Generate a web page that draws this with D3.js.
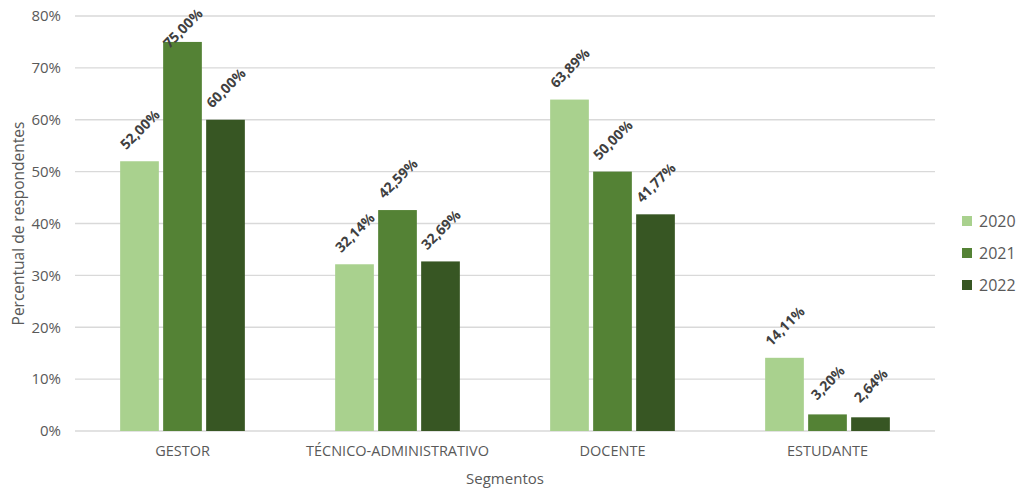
<!DOCTYPE html>
<html>
<head>
<meta charset="utf-8">
<script src="https://cdn.jsdelivr.net/npm/d3@7"></script>
<style>
  body { margin: 0; background: #fff; }
  svg text { font-family: 'Open Sans', sans-serif; }
</style>
</head>
<body>
<svg width="1022" height="492"></svg>
<script>
const segments = ['GESTOR', 'TÉCNICO-ADMINISTRATIVO', 'DOCENTE', 'ESTUDANTE']
const years = ['2020', '2021', '2022']
const values2020 = [52.00, 32.14, 63.89, 14.11]
const values2021 = [75.00, 42.59, 50.00, 3.20]
const values2022 = [60.00, 32.69, 41.77, 2.64]
const yTicks = [0, 10, 20, 30, 40, 50, 60, 70, 80]
const colors = ['#A9D18E', '#548235', '#375623']

const series = [values2020, values2021, values2022]

const svg = d3.select('svg')
const margin = { top: 16, right: 87, bottom: 61, left: 75 }
const width = 1022 - margin.left - margin.right
const height = 492 - margin.top - margin.bottom
const g = svg.append('g').attr('transform', `translate(${margin.left},${margin.top})`)

const x = d3.scaleBand().domain(segments).range([0, width]).paddingInner(0).paddingOuter(0)
const x1 = d3.scaleBand().domain(years).range([x.bandwidth() * 0.21, x.bandwidth() * 0.79]).paddingInner(0.1)
const y = d3.scaleLinear().domain([0, 80]).range([height, 0])

// grid
g.append('g')
	.selectAll('line')
	.data(yTicks)
	.enter()
	.append('line')
	.attr('x1', 0)
	.attr('x2', width)
	.attr('y1', d => y(d))
	.attr('y2', d => y(d))
	.attr('stroke', '#d9d9d9')
	.attr('stroke-width', 1.3)

// y axis labels
const yAxis = g.append('g')
	.call(d3.axisLeft(y).tickValues(yTicks).tickFormat(d => d + '%').tickSize(0).tickPadding(14))
yAxis.select('.domain').remove()
yAxis.selectAll('text').attr('font-size', 15).attr('fill', '#595959').attr('font-family', "'Open Sans', sans-serif")

// x axis labels
const xAxis = g.append('g')
	.attr('transform', `translate(0,${height})`)
	.call(d3.axisBottom(x).tickSize(0).tickPadding(15))
xAxis.select('.domain').remove()
xAxis.selectAll('text').attr('font-size', 14.5).attr('fill', '#595959').attr('font-family', "'Open Sans', sans-serif")

// bars
const groups = g.selectAll('.seg')
	.data(segments)
	.enter()
	.append('g')
	.attr('transform', d => `translate(${x(d)},0)`)

groups.selectAll('rect')
	.data((d, i) => years.map((yr, j) => ({ yr, v: series[j][i], c: colors[j] })))
	.enter()
	.append('rect')
	.attr('x', d => x1(d.yr))
	.attr('width', x1.bandwidth())
	.attr('y', d => y(d.v))
	.attr('height', d => height - y(d.v))
	.attr('fill', d => d.c)

groups.selectAll('text.lbl')
	.data((d, i) => years.map((yr, j) => ({ yr, v: series[j][i] })))
	.enter()
	.append('text')
	.attr('class', 'lbl')
	.attr('text-anchor', 'middle')
	.attr('dominant-baseline', 'central')
	.attr('font-size', 14)
	.attr('font-weight', 'bold')
	.attr('fill', '#404040')
	.attr('transform', d => {
		const cx = x1(d.yr) + x1.bandwidth() / 2
		const cy = Math.max(y(d.v) - 32, 12)
		return `translate(${cx},${cy}) rotate(-45)`
	})
	.text(d => d.v.toFixed(2).replace('.', ',') + '%')

// axis titles
svg.append('text')
	.attr('transform', `translate(18,${margin.top + height / 2}) rotate(-90)`)
	.attr('text-anchor', 'middle')
	.attr('dominant-baseline', 'central')
	.attr('font-size', 15.5)
	.attr('fill', '#595959')
	.text('Percentual de respondentes')

svg.append('text')
	.attr('x', margin.left + width / 2)
	.attr('y', 478)
	.attr('text-anchor', 'middle')
	.attr('dominant-baseline', 'central')
	.attr('font-size', 15)
	.attr('fill', '#595959')
	.text('Segmentos')

// legend
const legend = svg.append('g')
	.selectAll('g')
	.data(years)
	.enter()
	.append('g')
	.attr('transform', (d, i) => `translate(962,${221 + i * 32})`)
legend.append('rect')
	.attr('x', 0).attr('y', -5).attr('width', 10).attr('height', 10)
	.attr('fill', (d, i) => colors[i])
legend.append('text')
	.attr('x', 17)
	.attr('dominant-baseline', 'central')
	.attr('font-size', 16)
	.attr('fill', '#595959')
	.text(d => d)
</script>
</body>
</html>
